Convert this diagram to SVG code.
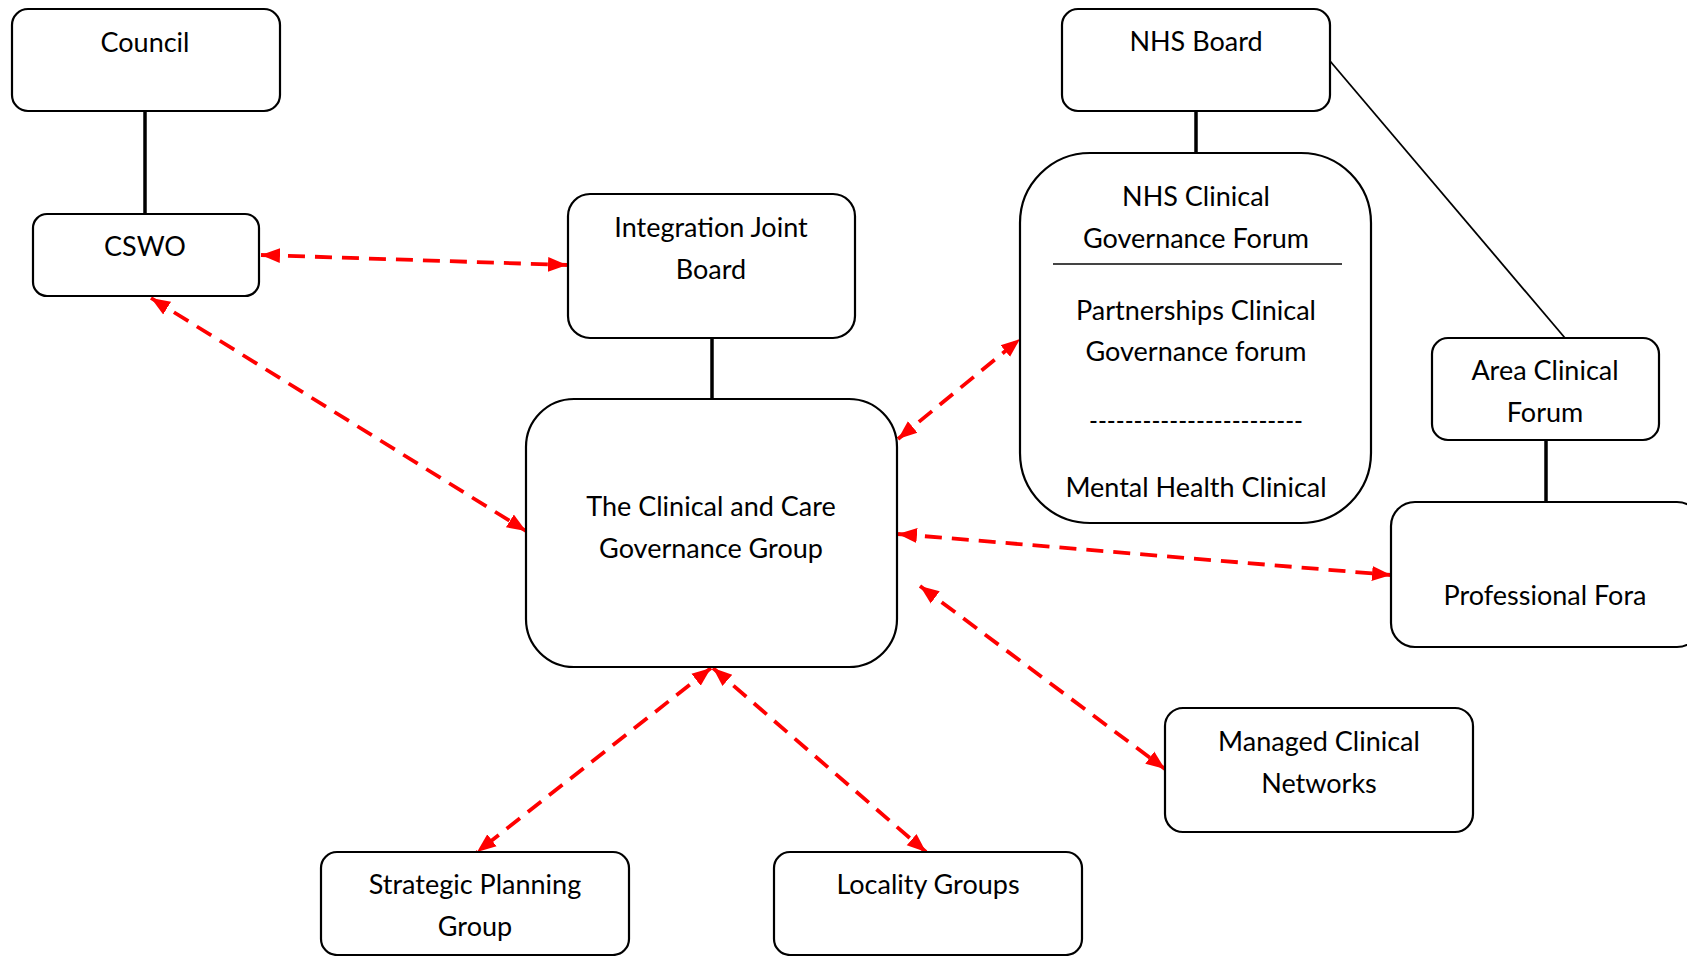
<svg xmlns="http://www.w3.org/2000/svg" width="1687" height="956" viewBox="0 0 1687 956">
<style>
.box{fill:#fff;stroke:#000;stroke-width:2.2}
.t{font-family:Lato,"Open Sans",sans-serif;font-size:27px;fill:#000;text-anchor:middle}
.solid{stroke:#000;stroke-width:3.5;fill:none}
.thin{stroke:#000;stroke-width:1.8;fill:none}
.red{stroke:#f00;stroke-width:3.8;stroke-dasharray:17 10;fill:none;marker-start:url(#ah);marker-end:url(#ah)}
</style>
<defs>
<marker id="ah" markerUnits="userSpaceOnUse" markerWidth="20" markerHeight="18" refX="19" refY="9" orient="auto-start-reverse">
<path d="M0,1.5 L19,9 L0,16.5 Z" fill="#f00"/>
</marker>
</defs>
<rect width="1687" height="956" fill="#fff"/>
<g id="connectors">
<line class="solid" x1="145" y1="111" x2="145" y2="214"/>
<line class="solid" x1="712" y1="338" x2="712" y2="399"/>
<line class="solid" x1="1196" y1="111" x2="1196" y2="153"/>
<line class="thin" x1="1330" y1="61" x2="1565" y2="338"/>
<line class="solid" x1="1546" y1="440" x2="1546" y2="502"/>
<line class="red" x1="261" y1="255" x2="567" y2="265"/>
<line class="red" x1="151" y1="298" x2="526" y2="531"/>
<line class="red" x1="898" y1="439" x2="1020" y2="339"/>
<line class="red" x1="898" y1="534" x2="1391" y2="575"/>
<line class="red" x1="920" y1="586" x2="1165" y2="769"/>
<line class="red" x1="711" y1="668" x2="477" y2="852"/>
<line class="red" x1="713" y1="668" x2="926" y2="852"/>
</g>
<g id="council">
<rect class="box" x="12" y="9" width="268" height="102" rx="16"/>
<text class="t" x="145" y="52">Council</text>
</g>
<g id="cswo">
<rect class="box" x="33" y="214" width="226" height="82" rx="14"/>
<text class="t" x="145" y="256">CSWO</text>
</g>
<g id="ijb">
<rect class="box" x="568" y="194" width="287" height="144" rx="22"/>
<text class="t" x="711" y="237">Integration Joint</text>
<text class="t" x="711" y="279">Board</text>
</g>
<g id="ccgg">
<rect class="box" x="526" y="399" width="371" height="268" rx="48"/>
<text class="t" x="711" y="516">The Clinical and Care</text>
<text class="t" x="711" y="558">Governance Group</text>
</g>
<g id="nhsboard">
<rect class="box" x="1062" y="9" width="268" height="102" rx="16"/>
<text class="t" x="1196" y="51">NHS Board</text>
</g>
<g id="nhsforum">
<rect class="box" x="1020" y="153" width="351" height="370" rx="70"/>
<text class="t" x="1196" y="206">NHS Clinical</text>
<text class="t" x="1196" y="248">Governance Forum</text>
<line x1="1053" y1="264" x2="1342" y2="264" stroke="#444" stroke-width="1.8"/>
<text class="t" x="1196" y="320">Partnerships Clinical</text>
<text class="t" x="1196" y="361">Governance forum</text>
<text class="t" x="1196" y="430" textLength="214" lengthAdjust="spacingAndGlyphs">------------------------</text>
<text class="t" x="1196" y="497">Mental Health Clinical</text>
</g>
<g id="areaforum">
<rect class="box" x="1432" y="338" width="227" height="102" rx="16"/>
<text class="t" x="1545" y="380">Area Clinical</text>
<text class="t" x="1545" y="422">Forum</text>
</g>
<g id="profora">
<rect class="box" x="1391" y="502" width="310" height="145" rx="24"/>
<text class="t" x="1545" y="605">Professional Fora</text>
</g>
<g id="mcn">
<rect class="box" x="1165" y="708" width="308" height="124" rx="18"/>
<text class="t" x="1319" y="751">Managed Clinical</text>
<text class="t" x="1319" y="793">Networks</text>
</g>
<g id="spg">
<rect class="box" x="321" y="852" width="308" height="103" rx="16"/>
<text class="t" x="475" y="894">Strategic Planning</text>
<text class="t" x="475" y="936">Group</text>
</g>
<g id="locality">
<rect class="box" x="774" y="852" width="308" height="103" rx="16"/>
<text class="t" x="928" y="894">Locality Groups</text>
</g>
</svg>
